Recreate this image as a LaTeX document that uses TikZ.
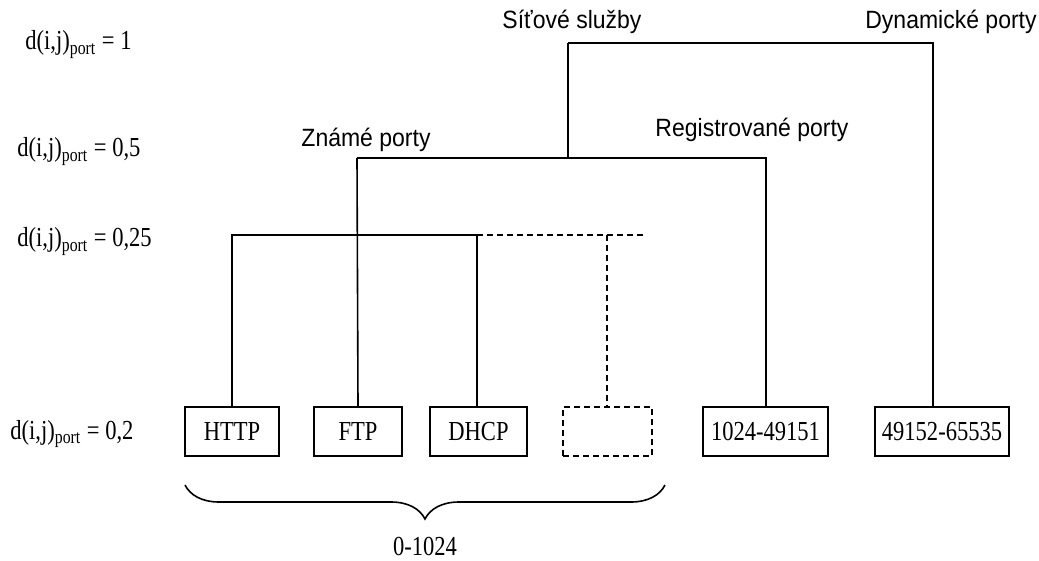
\documentclass[tikz,border=0pt]{standalone}
\usepackage{fontspec}
\setmainfont{Liberation Serif}[FakeStretch=0.82]
\newfontfamily\groupfamily{Liberation Sans}[FakeStretch=0.92]
\usetikzlibrary{calc, decorations.pathreplacing}
\newcommand\portfont{\fontsize{13.75}{16.5}\selectfont}
\newcommand\groupfont{\groupfamily\fontsize{12.5}{15}\selectfont}
\newlength\portboxheight
\setlength\portboxheight{24.5pt}

\begin{document}
\begin{tikzpicture}[
    x=0.5pt,
    y=-0.5pt,
    portbox/.style = {
        draw=black,
        line width=0.8pt,
        minimum height=\portboxheight,
        inner sep=0pt,
        font=\portfont,
    },
    grouplabel/.style = {
        inner sep=0pt,
        font=\groupfont,
    },
    levellabel/.style = {
        anchor=base west,
        inner sep=0pt,
        font=\portfont,
    },
    tree/.style = {
        draw=black,
        line width=0.8pt,
    },
    unknown/.style = {
        dash pattern=on 3pt off 2pt,
    },
    curly/.style = {
        draw=black,
        line width=0.8pt,
        decorate,
        decoration={
            brace,
            mirror,
            amplitude=17pt,
        },
    },
]
\useasboundingbox (0, 0) rectangle (1039, 561);
\node [levellabel] (lvl-a) at (25, 50) {d(i,j)\textsubscript{port} = 1};
\node [levellabel] (lvl-b) at (17, 157) {d(i,j)\textsubscript{port} = 0,5};
\node [levellabel] (lvl-c) at (17, 247) {d(i,j)\textsubscript{port} = 0,25};
\node [levellabel] (lvl-d) at (10, 439) {d(i,j)\textsubscript{port} = 0,2};
\node [portbox, minimum width=47pt] (http) at (232, 431.5) {HTTP};
\node [portbox, minimum width=44pt] (ftp) at (358, 431.5) {FTP};
\node [portbox, minimum width=48.5pt] (dhcp) at (478.5, 431.5) {DHCP};
\node [portbox, unknown, minimum width=44.5pt] (free) at (607.5, 431.5) {};
\node [portbox, minimum width=62.5pt] (registered) at (765.5, 431.5) {1024-49151};
\node [portbox, minimum width=67pt] (dynamic) at (942, 431.5) {49152-65535};
\coordinate (services) at (568, 43);
\coordinate (dynamic-top) at (933, 43);
\coordinate (known) at (357, 158);
\coordinate (registered-top) at (766, 158);
\coordinate (known-l) at (232, 235);
\coordinate (known-r) at (477, 235);
\coordinate (free-top) at (607, 235);
\coordinate (free-end) at (645, 235);
\node [grouplabel] (services-label) at (572, 22) {Síťové služby};
\node [grouplabel] (dynamic-label) at (951, 22) {Dynamické porty};
\node [grouplabel] (known-label) at (366, 140) {Známé porty};
\node [grouplabel] (registered-label) at (752, 130) {Registrované porty};
\path [tree] (services) -- (dynamic-top) -- (dynamic-top |- dynamic.north);
\path [tree] (services) -- (services |- known);
\path [tree] (known) -- (registered-top) -- (registered-top |- registered.north);
\path [tree] (known) -- (ftp.north);
\path [tree] (known-l |- http.north) -- (known-l) -- (known-r) -- (known-r |- dhcp.north);
\path [tree, unknown] (known-r) -- (free-end);
\path [tree, unknown] (free-top) -- (free-top |- free.north);
\coordinate (range-l) at (185, 485);
\coordinate (range-r) at (665, 485);
\path [curly] (range-l) -- (range-r);
\node [inner sep=0pt, font=\portfont] (range) at (425, 546) {0-1024};
\end{tikzpicture}
\end{document}
